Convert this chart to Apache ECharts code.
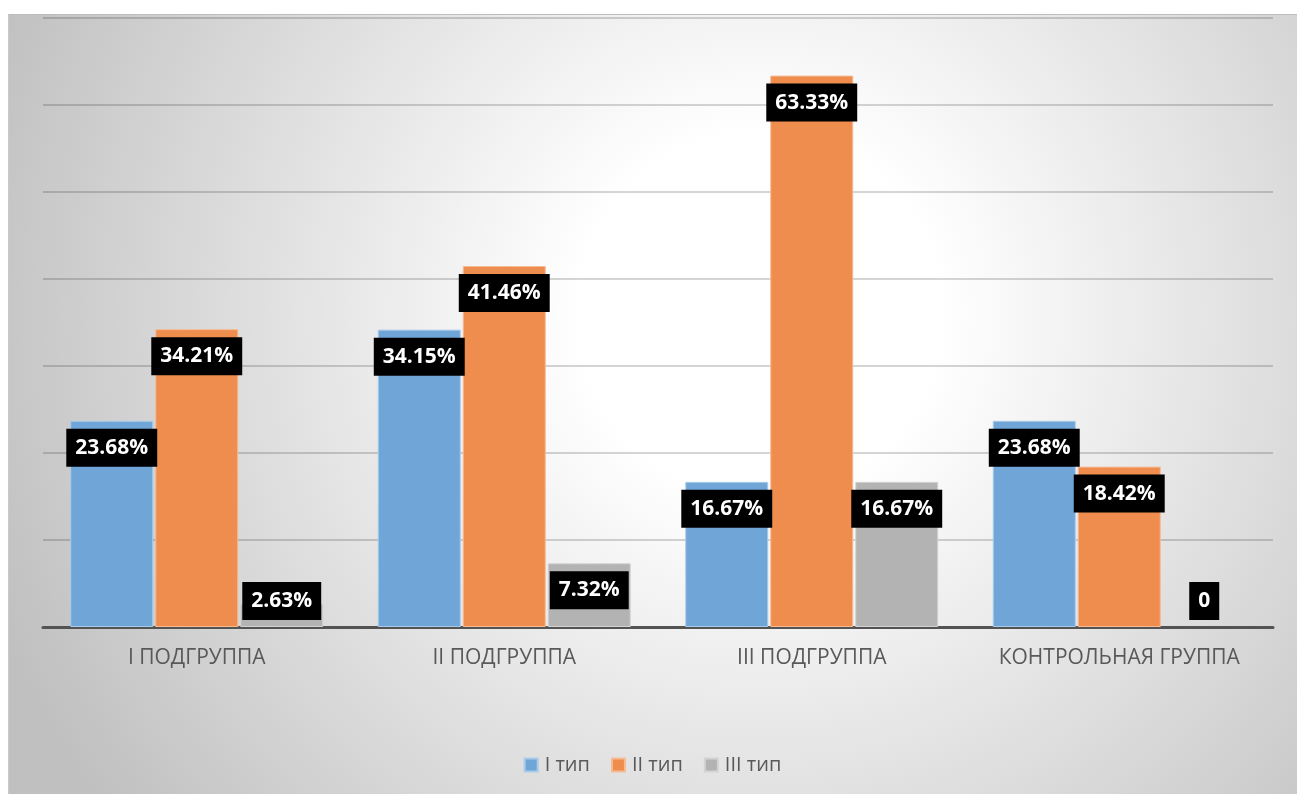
<!DOCTYPE html>
<html>
<head>
<meta charset="utf-8">
<script src="https://cdn.jsdelivr.net/npm/echarts@6/dist/echarts.min.js"></script>
<style>
  html, body { margin: 0; padding: 0; background: #ffffff; }
  #frame { position: absolute; left: 8px; top: 14px; width: 1289px; height: 780px; }
  #chart { position: absolute; left: 0; top: 0; width: 1289px; height: 780px; }
  #edge { position: absolute; left: 0; top: 0; right: 0; bottom: 0;
          border-top: 1px solid #bdbdbd; border-left: 1px solid #c9c9c9; pointer-events: none; }
</style>
</head>
<body>
<div id="frame"><div id="chart"></div><div id="edge"></div></div>
<script>
// Распределение типов по подгруппам, %
const categories = ['I ПОДГРУППА', 'II ПОДГРУППА', 'III ПОДГРУППА', 'КОНТРОЛЬНАЯ ГРУППА'];
const seriesNames = ['I тип', 'II тип', 'III тип'];
const typeI = [23.68, 34.15, 16.67, 23.68];
const typeII = [34.21, 41.46, 63.33, 18.42];
const typeIII = [2.63, 7.32, 16.67, 0];
const axisMin = 0;
const axisMax = 70;
const axisStep = 10;

const colors = ['#6fa5d7', '#ef8d4e', '#b3b3b3'];
const edgeColors = ['#a9cbea', '#f6bb95', '#d3d3d3'];
const fontStack = '"Open Sans", sans-serif';

const labelBase = {
  show: true,
  position: 'insideTop',
  distance: 8,
  color: '#ffffff',
  backgroundColor: '#000000',
  fontFamily: fontStack,
  fontWeight: 'bold',
  fontSize: 21,
  lineHeight: 24,
  padding: [7, 9],
  formatter: p => (p.value === 0 ? '0' : p.value.toFixed(2) + '%')
};

// short bars: keep the value box resting just above the axis
function toData(values) {
  return values.map(v => {
    if (v === 0) {
      return { value: v, itemStyle: { borderWidth: 0 },
               label: { position: 'insideBottom', distance: 7 } };
    }
    if (v < 5) {
      return { value: v, label: { position: 'insideBottom', distance: 7 } };
    }
    return v;
  });
}

const chart = echarts.init(document.getElementById('chart'), null, { renderer: 'canvas' });

chart.setOption({
  backgroundColor: new echarts.graphic.RadialGradient(752, 300, 820, [
    { offset: 0, color: '#ffffff' },
    { offset: 0.22, color: '#ffffff' },
    { offset: 1, color: '#c0c0c0' }
  ], true),
  animation: false,
  grid: { left: 35, right: 24, top: 3.5, bottom: 167 },
  legend: {
    data: seriesNames,
    top: 736,
    left: 'center',
    icon: 'rect',
    itemWidth: 13,
    itemHeight: 13,
    itemGap: 21,
    textStyle: { color: '#595959', fontSize: 20, fontFamily: fontStack, padding: [0, 0, 0, 2] }
  },
  xAxis: {
    type: 'category',
    data: categories,
    axisLine: { lineStyle: { color: '#535353', width: 3 } },
    axisTick: { show: false },
    axisLabel: {
      interval: 0,
      hideOverlap: false,
      color: '#595959',
      fontSize: 21,
      fontFamily: fontStack,
      margin: 21
    }
  },
  yAxis: {
    type: 'value',
    min: axisMin,
    max: axisMax,
    interval: axisStep,
    axisLabel: { show: false },
    axisLine: { show: false },
    axisTick: { show: false },
    splitLine: { lineStyle: { color: 'rgba(0,0,0,0.22)', width: 1.5 } }
  },
  series: [typeI, typeII, typeIII].map((vals, i) => ({
    name: seriesNames[i],
    type: 'bar',
    data: toData(vals),
    barWidth: 83,
    barGap: '2.4%',
    itemStyle: { color: colors[i], borderColor: edgeColors[i], borderWidth: 1 },
    label: labelBase
  }))
});
</script>
</body>
</html>
